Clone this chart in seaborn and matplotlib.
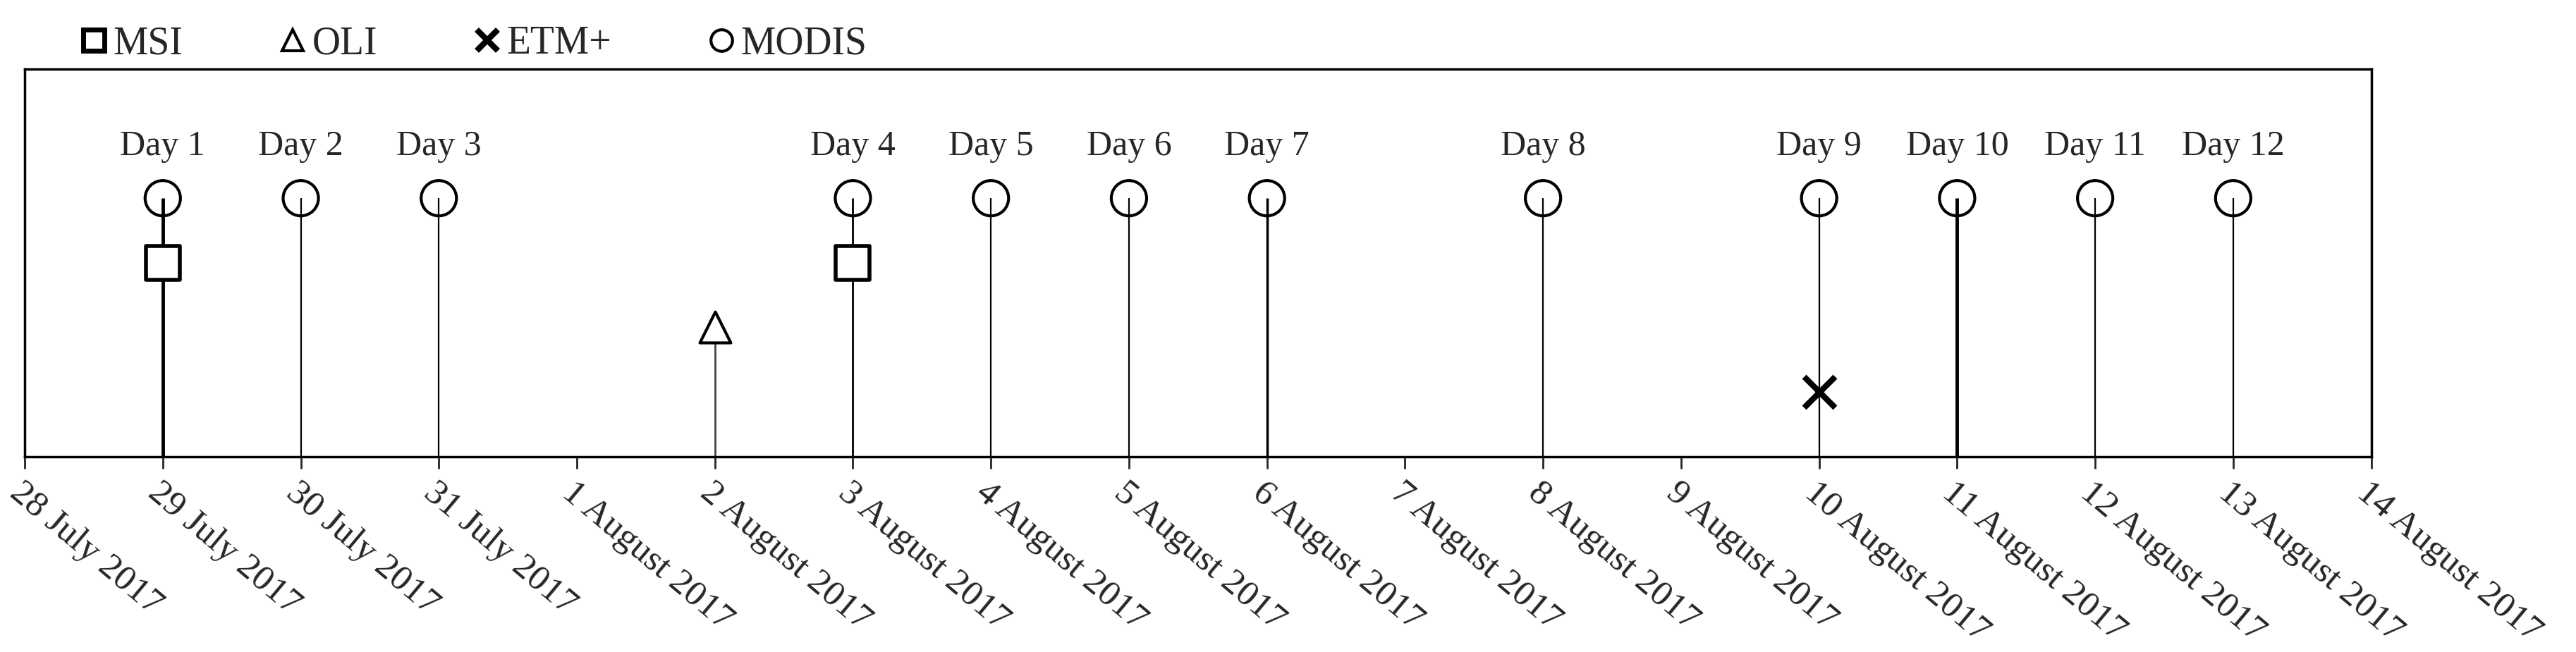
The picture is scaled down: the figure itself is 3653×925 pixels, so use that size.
import matplotlib.pyplot as plt
import seaborn as sns
import pandas as pd
from matplotlib.lines import Line2D

sns.set_theme(style="white")
plt.rcParams["font.family"] = ["Liberation Serif", "DejaVu Serif"]

# tick labels along the time axis (equally spaced)
dates = ["28 July 2017", "29 July 2017", "30 July 2017", "31 July 2017",
         "1 August 2017", "2 August 2017", "3 August 2017", "4 August 2017",
         "5 August 2017", "6 August 2017", "7 August 2017", "8 August 2017",
         "9 August 2017", "10 August 2017", "11 August 2017", "12 August 2017",
         "13 August 2017", "14 August 2017"]

# acquisitions per sensor (index into dates) and stem height level
modis_days = [1, 2, 3, 6, 7, 8, 9, 11, 13, 14, 15, 16]
msi_days = [1, 6]
oli_days = [5]
etm_days = [13]
levels = {"MSI": 3, "OLI": 2, "ETM+": 1, "MODIS": 4}
day_labels = [f"Day {i}" for i in range(1, 13)]

rows = []
for s, days in [("MSI", msi_days), ("OLI", oli_days), ("ETM+", etm_days), ("MODIS", modis_days)]:
    for d in days:
        rows.append({"sensor": s, "x": d, "y": levels[s]})
df = pd.DataFrame(rows)

fig, ax = plt.subplots(figsize=(36.53, 9.25), dpi=100)
fig.subplots_adjust(left=0.0096, right=0.9205, top=0.894, bottom=0.30)

# stems
thick = {1: 3.5, 14: 3.5, 9: 2.5, 6: 2.0}
for d in modis_days:
    ax.vlines(d, 0, levels["MODIS"], color="black", lw=thick.get(d, 1.6), zorder=1)
for d in oli_days:
    ax.vlines(d, 0, levels["OLI"] - 0.15, color="#444444", lw=2, zorder=1)

markers = {"MSI": "s", "OLI": "^", "ETM+": "X", "MODIS": "o"}
sizes = {"MSI": 1150, "OLI": 1000, "ETM+": 1000, "MODIS": 1300}
for s in ["MSI", "OLI", "ETM+", "MODIS"]:
    sub = df[df["sensor"] == s]
    if s == "ETM+":
        ax.scatter(sub["x"], sub["y"], marker="x", s=sizes[s], c="black",
                   linewidths=6, zorder=3)
    else:
        sns.scatterplot(data=sub, x="x", y="y", marker=markers[s], s=sizes[s],
                        facecolor="white" if s != "MODIS" else "none",
                        edgecolor="black", linewidth=4 if s == "MSI" else 3,
                        ax=ax, zorder=3)

for d, lab in zip(modis_days, day_labels):
    ax.text(d, 4.8, lab, ha="center", va="center", fontsize=36)

ax.set_xlim(0, len(dates) - 1)
ax.set_ylim(0, 6)
ax.set_xticks(range(len(dates)))
ax.set_xticklabels(dates, rotation=-40, ha="left", rotation_mode="anchor", fontsize=37)
ax.tick_params(axis="x", direction="out", length=12, width=2, bottom=True, pad=8)
ax.set_yticks([])
ax.set_xlabel("")
ax.set_ylabel("")
for sp in ax.spines.values():
    sp.set_color("black")
    sp.set_linewidth(2.5)

# legend above axes
handles = [
    Line2D([], [], marker="s", ls="", mfc="white", mec="black", mew=5, ms=22),
    Line2D([], [], marker="^", ls="", mfc="white", mec="black", mew=3, ms=22),
    Line2D([], [], marker="x", ls="", color="black", mew=6, ms=22),
    Line2D([], [], marker="o", ls="", mfc="white", mec="black", mew=3, ms=22),
]
fig.legend(handles, ["MSI", "OLI", "ETM+", "MODIS"], loc="upper left",
           bbox_to_anchor=(0.015, 1.015), ncol=4, frameon=False, fontsize=40,
           handletextpad=0.0, columnspacing=2.3, handlelength=1.0)

fig.savefig("out.png", dpi=100)
